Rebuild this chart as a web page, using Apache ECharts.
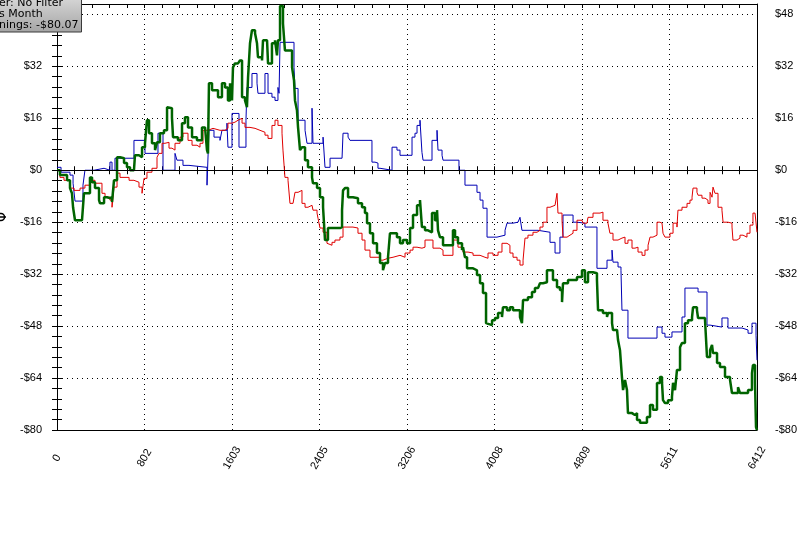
<!DOCTYPE html>
<html><head><meta charset="utf-8">
<script src="https://cdn.jsdelivr.net/npm/echarts@6/dist/echarts.min.js"></script>
<style>html,body{margin:0;padding:0;background:#fff}#c{width:803px;height:548px}</style>
</head><body><div id="c"></div>
<script>
// ---- data ----
const xTickLabels = [0, 802, 1603, 2405, 3206, 4008, 4809, 5611, 6412];
const yTickLabels = [-80, -64, -48, -32, -16, 0, 16, 32, 48];
const legendLines = ['er: No Filter', 's Month', 'nings: -$80.07'];

const greenX = [0,27,92,119,137,147,165,229,247,302,321,348,385,394,431,458,485,504,522,550,577,614,641,669,705,714,751,779,806,824,843,870,898,916,943,980,1008,1026,1053,1063,1108,1145,1172,1200,1237,1282,1328,1356,1374,1383,1392,1420,1447,1475,1511,1539,1566,1585,1603,1612,1630,1658,1676,1695,1722,1740,1750,1768,1786,1814,1832,1841,1878,1887,1924,1933,1969,1997,2015,2024,2043,2061,2070,2088,2116,2153,2171,2180,2198,2208,2226,2244,2272,2299,2336,2345,2382,2409,2437,2455,2482,2528,2592,2611,2620,2638,2666,2711,2757,2794,2821,2840,2867,2895,2931,2959,2986,3004,3032,3050,3078,3114,3142,3169,3206,3234,3261,3298,3325,3343,3371,3398,3435,3462,3481,3490,3508,3536,3600,3627,3646,3673,3710,3719,3737,3756,3811,3847,3875,3902,3930,3948,3985,4012,4040,4076,4085,4122,4149,4177,4214,4241,4259,4269,4314,4351,4378,4406,4424,4452,4488,4516,4543,4580,4607,4626,4635,4681,4727,4763,4809,4836,4864,4910,4946,4956,5001,5038,5047,5084,5093,5130,5139,5157,5175,5185,5203,5221,5230,5267,5294,5313,5340,5368,5404,5432,5459,5496,5523,5542,5551,5569,5597,5633,5643,5661,5679,5707,5725,5752,5780,5817,5826,5862,5872,5936,5954,5982,6000,6009,6046,6073,6119,6165,6183,6210,6238,6256,6302,6330,6366,6375,6394,6403,6412];
const greenY = [0,-1.5,-3.1,-5.5,-7.1,-11.4,-15.4,-15.1,-7.1,-2.2,-3.7,-5.5,-9.2,-10.2,-8.3,-8.6,-8.3,-9.8,-3.1,4.0,3.7,2.2,0.9,0,0.6,4.6,4.0,7.1,8.3,15.4,11.4,8.3,6.2,8.6,11.4,12.3,19.4,19.1,16.3,10.2,9.2,14.5,16.3,13.2,10.2,9.2,13.2,13.2,6.2,5.2,26.8,24.6,24.6,22.5,26.8,25.5,21.5,26.8,21.5,31.7,32.9,32.3,33.8,22.5,21.5,19.4,28.6,39.1,43.1,42.2,39.1,34.8,33.8,40.0,40.0,32.9,39.1,40.0,35.4,40.0,50.6,50.6,45.2,36.9,36.9,31.7,27.7,21.5,18.5,13.2,6.2,7.1,3.1,0.9,-2.2,-4.0,-5.5,-8.3,-11.4,-21.5,-17.8,-17.8,-17.5,-12.3,-6.2,-5.5,-8.3,-8.6,-10.2,-11.4,-13.2,-16.3,-19.4,-22.5,-25.5,-28.6,-30.8,-28.6,-26.8,-19.4,-19.4,-20.6,-22.5,-21.5,-22.5,-17.8,-13.8,-10.8,-9.2,-17.5,-18.5,-19.1,-13.2,-15.4,-12.3,-18.5,-20.6,-23.1,-23.1,-18.5,-20.6,-22.5,-24.6,-23.7,-26.8,-30.2,-30.8,-32.3,-34.8,-37.8,-47.1,-47.7,-46.2,-45.5,-44.0,-45.2,-42.2,-43.1,-42.2,-43.1,-43.1,-45.2,-47.1,-40.0,-39.1,-37.5,-36.3,-36.0,-34.8,-34.5,-30.8,-30.8,-33.8,-36.0,-36.9,-40.6,-34.8,-33.8,-33.8,-32.9,-30.8,-34.5,-31.4,-31.7,-33.8,-43.1,-44.0,-45.2,-44.0,-47.1,-49.2,-49.2,-52.3,-55.4,-63.7,-67.7,-64.6,-67.7,-74.8,-75.4,-74.8,-76.9,-77.8,-77.8,-76.0,-72.3,-73.8,-65.5,-63.7,-65.5,-70.8,-71.7,-70.8,-69.8,-65.5,-67.7,-61.5,-54.5,-53.2,-47.1,-46.2,-45.2,-42.2,-43.1,-45.5,-46.2,-57.5,-55.4,-53.8,-56.3,-59.4,-60.6,-63.7,-64.6,-68.6,-68.6,-66.8,-68.6,-68.6,-67.7,-62.5,-60.0,-65.5,-79.1,-80.07];

const redX = [0,27,64,119,156,211,256,302,348,412,440,485,504,522,550,577,623,660,705,751,779,797,824,870,916,934,962,989,1026,1053,1081,1127,1154,1200,1237,1282,1310,1337,1383,1429,1493,1539,1566,1603,1630,1658,1695,1722,1768,1814,1859,1905,1933,1969,1997,2024,2061,2070,2088,2116,2134,2162,2180,2208,2244,2272,2299,2336,2345,2382,2391,2409,2437,2473,2482,2519,2546,2592,2620,2656,2711,2757,2794,2821,2867,2913,2959,2986,3032,3078,3142,3188,3234,3261,3298,3343,3371,3417,3444,3508,3536,3600,3627,3673,3719,3765,3811,3875,3920,3948,3994,4040,4076,4122,4149,4177,4214,4241,4269,4287,4314,4360,4397,4424,4452,4488,4516,4562,4580,4589,4626,4635,4672,4699,4727,4763,4809,4818,4855,4864,4910,4974,5001,5047,5065,5093,5139,5175,5203,5230,5267,5294,5322,5359,5386,5414,5432,5459,5496,5523,5542,5551,5569,5615,5643,5679,5688,5725,5771,5798,5817,5826,5862,5872,5908,5936,5963,5982,6000,6009,6027,6055,6091,6101,6146,6183,6192,6229,6256,6284,6320,6348,6375,6394,6412];
const redY = [0,-2.2,-3.1,-5.5,-6.2,-5.5,-4.6,-3.1,-4.0,-7.1,-8.3,-9.2,-11.4,-5.2,-0.9,-2.2,-2.2,-3.1,-3.7,-5.2,-7.1,-2.5,-0.6,0.6,4.0,5.2,8.3,8.6,6.8,6.2,8.3,10.2,11.4,9.2,7.7,7.1,8.3,12.3,12.9,12.3,12.3,12.9,14.5,14.8,15.4,16.0,14.5,13.2,12.9,12.3,11.7,10.8,9.8,13.8,15.4,13.8,11.4,6.2,-2.2,-3.1,-10.2,-10.8,-6.8,-6.2,-10.2,-11.4,-10.8,-10.2,-12.3,-13.2,-14.8,-17.8,-19.1,-22.5,-23.1,-22.2,-21.5,-20.6,-17.5,-17.5,-17.8,-19.4,-21.5,-24.6,-26.8,-26.8,-27.7,-27.1,-26.8,-26.2,-26.8,-25.5,-24.6,-23.7,-24.0,-23.7,-21.5,-21.5,-24.0,-24.6,-26.2,-26.2,-21.5,-23.7,-25.2,-25.5,-26.2,-26.8,-27.1,-25.5,-26.2,-25.2,-22.5,-23.1,-25.5,-26.8,-27.7,-29.2,-27.7,-20.9,-20.0,-19.1,-18.5,-17.5,-16.0,-11.4,-10.8,-10.2,-7.1,-13.2,-15.4,-20.6,-20.0,-19.4,-18.5,-15.4,-15.4,-16.3,-16.9,-14.5,-13.2,-12.9,-15.4,-16.3,-19.4,-21.5,-20.9,-20.6,-22.5,-21.5,-24.0,-23.7,-25.2,-26.2,-24.6,-23.1,-20.6,-20.0,-16.0,-16.3,-16.0,-19.4,-20.6,-19.4,-16.3,-17.5,-12.3,-11.4,-10.2,-9.2,-8.3,-5.5,-6.8,-7.7,-8.6,-9.2,-10.2,-6.8,-8.3,-5.2,-7.1,-11.4,-12.3,-16.0,-16.3,-17.5,-21.5,-20.9,-20.0,-20.6,-19.4,-16.9,-13.2,-13.8,-19.1];

const blueX = [0,37,119,147,165,238,256,339,431,485,504,531,705,806,925,971,1081,1099,1154,1209,1374,1392,1438,1493,1511,1557,1566,1603,1667,1731,1740,1786,1832,1841,1905,1933,1969,1997,2024,2034,2043,2171,2180,2208,2272,2290,2336,2345,2437,2455,2501,2611,2620,2666,2684,2885,2913,2940,2959,3069,3114,3142,3252,3279,3298,3325,3343,3353,3435,3481,3490,3527,3536,3682,3737,3847,3875,3902,3939,4030,4104,4122,4177,4223,4241,4259,4406,4516,4562,4607,4635,4727,4763,4836,4946,5038,5084,5093,5139,5166,5175,5230,5496,5542,5569,5633,5725,5752,5872,5954,5982,6091,6146,6275,6330,6366,6403,6412];
const blueY = [0.9,-0.6,-1.5,-4.0,-9.5,-4.6,0,0.6,0,2.5,0,3.7,9.2,5.2,11.4,0,5.2,3.1,1.5,0.9,-4.6,12.3,10.2,9.2,12.3,14.5,7.1,17.5,7.1,15.4,25.5,29.8,26.8,23.7,29.8,23.7,22.5,21.5,25.5,23.7,39.4,31.7,25.2,15.4,12.3,8.3,19.1,8.3,10.2,0.9,3.7,4.0,11.4,10.2,9.2,2.5,2.2,0.6,0,7.1,6.2,4.6,10.2,11.4,13.8,15.4,5.5,3.1,9.2,12.3,6.2,4.6,3.1,0,-4.6,-6.8,-9.2,-11.7,-20.6,-20.0,-18.5,-16.3,-16.0,-16.3,-14.5,-18.5,-19.1,-22.2,-25.5,-20.6,-13.8,-16.0,-16.3,-17.5,-30.2,-27.7,-24.6,-28.3,-29.8,-30.8,-43.1,-51.7,-48.3,-50.2,-51.4,-49.8,-45.2,-36.3,-37.5,-47.7,-48.3,-45.5,-48.6,-49.2,-50.2,-47.1,-50.8,-58.5];

// ---- chart ----
const X_MIN = 0, X_MAX = 6412, X_MAJOR = 801.5, X_MINOR = 160.3;
const Y_MIN = -80, Y_MAX = 51.2, Y_MAJOR = 16, Y_MINOR = 3.2;
const pairs = (xs, ys) => xs.map((x, i) => [x, ys[i]]);
const FONT = 'Liberation Sans, Arial, sans-serif';

function xLabel(v) {
  let best = xTickLabels[0], d = Infinity;
  for (const t of xTickLabels) { const dd = Math.abs(t - v); if (dd < d) { d = dd; best = t; } }
  return d < 2 ? String(best) : '';
}
function yLabel(v) {
  const r = Math.round(v);
  if (Math.abs(r - v) > 0.01 || yTickLabels.indexOf(r) < 0) return '';
  return r < 0 ? '-$' + (-r) : '$' + r;
}

const dotted = { show: true, lineStyle: { color: '#000', width: 1, type: [1, 4] } };
function xBase(extra) {
  return Object.assign({ type: 'value', min: X_MIN, max: X_MAX, gridIndex: 0,
    axisLine: { show: false }, axisTick: { show: false }, axisLabel: { show: false },
    splitLine: { show: false }, minorTick: { show: false } }, extra);
}
function yBase(extra) {
  return Object.assign({ type: 'value', min: Y_MIN, max: Y_MAX, gridIndex: 0,
    axisLine: { show: false }, axisTick: { show: false }, axisLabel: { show: false },
    splitLine: { show: false }, minorTick: { show: false } }, extra);
}
const lineBlack = { show: true, onZero: false, lineStyle: { color: '#000', width: 1 } };
const tickStyle = { color: '#000', width: 1 };

const option = {
  animation: false,
  backgroundColor: '#fff',
  grid: { left: 57, right: 46, top: 4, bottom: 118, containLabel: false },
  xAxis: [
    xBase({ position: 'bottom', interval: X_MAJOR, axisLine: lineBlack, splitLine: dotted,
      axisLabel: { show: true, formatter: xLabel, rotate: 60, align: 'center', verticalAlign: 'middle',
        margin: 28, color: '#000', fontSize: 11, fontFamily: FONT, showMinLabel: true, showMaxLabel: true, hideOverlap: false } }),
    xBase({ position: 'bottom', interval: X_MINOR, axisTick: { show: true, inside: false, length: 4, lineStyle: tickStyle } }),
    xBase({ position: 'bottom', interval: X_MINOR, axisTick: { show: true, inside: true, length: 4, lineStyle: tickStyle } }),
    xBase({ position: 'top', interval: X_MINOR, axisLine: lineBlack, axisTick: { show: true, inside: true, length: 4, lineStyle: tickStyle } })
  ],
  yAxis: [
    yBase({ position: 'left', interval: Y_MAJOR, axisLine: lineBlack, splitLine: dotted,
      axisLabel: { show: true, formatter: yLabel, margin: 15, color: '#000', fontSize: 11, fontFamily: FONT, showMaxLabel: false } }),
    yBase({ position: 'left', interval: Y_MINOR, axisTick: { show: true, inside: false, length: 5, lineStyle: tickStyle } }),
    yBase({ position: 'left', interval: Y_MINOR, axisTick: { show: true, inside: true, length: 5, lineStyle: tickStyle } }),
    yBase({ position: 'right', interval: Y_MAJOR, axisLine: lineBlack,
      axisLabel: { show: true, formatter: yLabel, margin: 18, color: '#000', fontSize: 11, fontFamily: FONT, showMaxLabel: false } }),
    yBase({ position: 'right', interval: Y_MINOR, axisTick: { show: true, inside: false, length: 5, lineStyle: tickStyle } }),
    yBase({ position: 'right', interval: Y_MINOR, axisTick: { show: true, inside: true, length: 5, lineStyle: tickStyle } })
  ],
  series: [
    { type: 'line', name: 'blue', xAxisIndex: 0, yAxisIndex: 0, step: 'end', symbol: 'none', showSymbol: false,
      data: pairs(blueX, blueY), lineStyle: { color: '#0000b4', width: 1 }, z: 2,
      markLine: { silent: true, symbol: ['none', 'none'], label: { show: false },
        lineStyle: { color: '#000', width: 1, type: 'solid' }, data: [{ yAxis: 0 }], animation: false } },
    { type: 'line', name: 'red', xAxisIndex: 0, yAxisIndex: 0, step: 'end', symbol: 'none', showSymbol: false,
      data: pairs(redX, redY), lineStyle: { color: '#e00000', width: 1 }, z: 3 },
    { type: 'line', name: 'green', xAxisIndex: 0, yAxisIndex: 0, step: 'end', symbol: 'none', showSymbol: false,
      data: pairs(greenX, greenY), lineStyle: { color: '#006400', width: 2.5 }, z: 4 }
  ],
  graphic: [
    { type: 'rect', shape: { x: -10, y: -10, width: 91.5, height: 42 }, z: 100,
      style: { stroke: '#3a3a3a', lineWidth: 1,
        fill: { type: 'linear', x: 0, y: 0, x2: 0, y2: 1, colorStops: [{ offset: 0, color: '#e2e2e2' }, { offset: 1, color: '#a4a4a4' }] } } },
    { type: 'text', x: -1, y: -2, z: 101, style: { text: legendLines[0], font: '11px "DejaVu Sans", sans-serif', fill: '#000' } },
    { type: 'text', x: -1, y: 9, z: 101, style: { text: legendLines[1], font: '11px "DejaVu Sans", sans-serif', fill: '#000' } },
    { type: 'text', x: -1, y: 20, z: 101, style: { text: legendLines[2], font: '11px "DejaVu Sans", sans-serif', fill: '#000' } },
    { type: 'circle', shape: { cx: 1, cy: 217, r: 3.5 }, z: 101, style: { fill: 'none', stroke: '#000', lineWidth: 1.5 } },
    { type: 'line', shape: { x1: -3, y1: 217, x2: 6, y2: 217 }, z: 101, style: { stroke: '#000', lineWidth: 1.5 } }
  ]
};
const chart = echarts.init(document.getElementById('c'), null, { renderer: 'canvas' });
chart.setOption(option);
</script></body></html>
